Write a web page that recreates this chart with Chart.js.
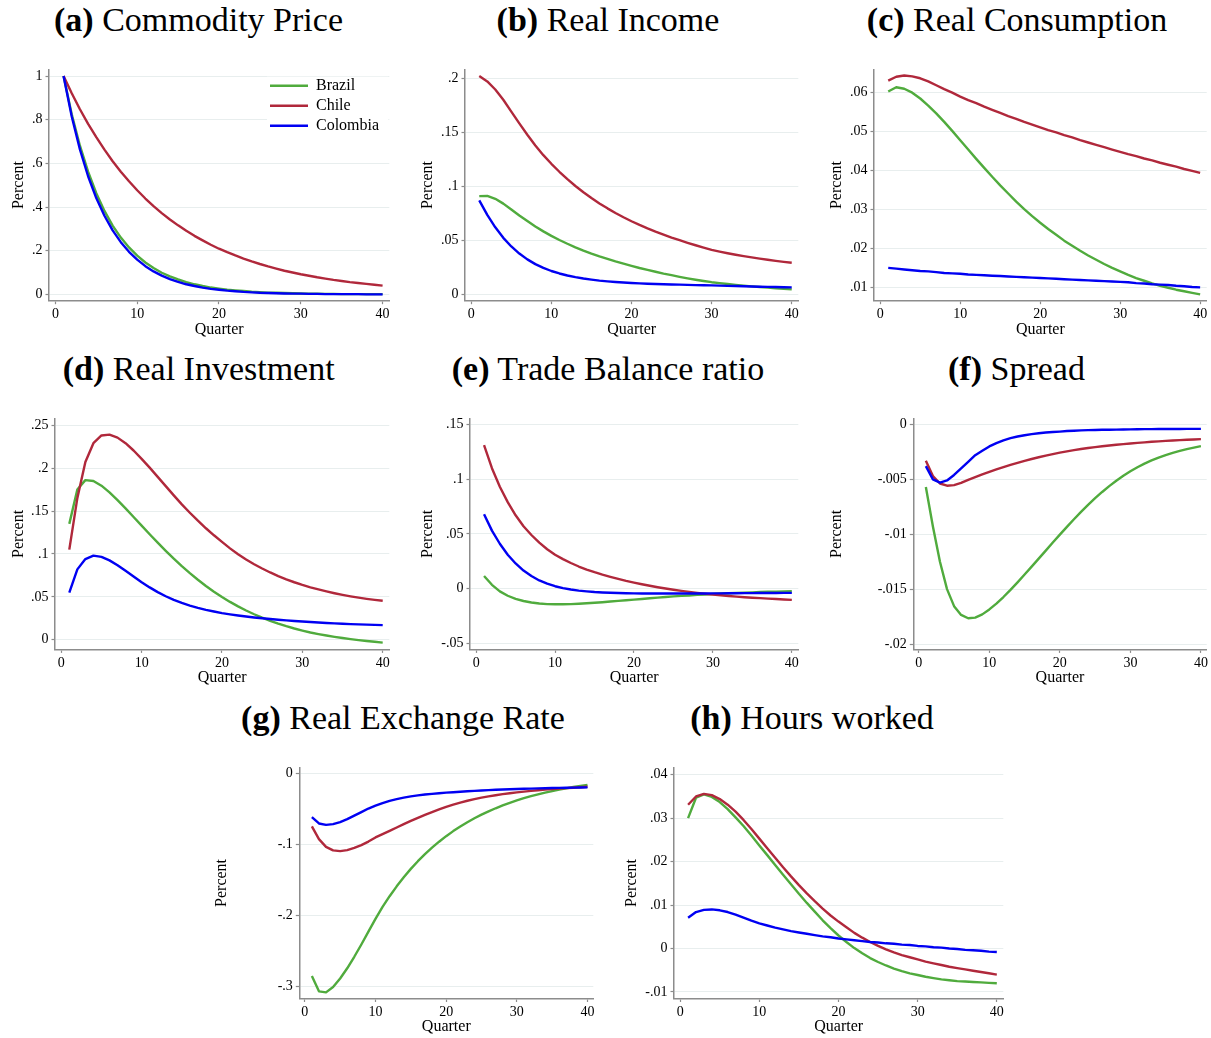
<!DOCTYPE html>
<html>
<head>
<meta charset="utf-8">
<script src="https://cdn.jsdelivr.net/npm/chart.js@4.4.1/dist/chart.umd.min.js"></script>
<style>
  html, body { margin: 0; padding: 0; background: #fff; width: 1211px; height: 1038px; overflow: hidden; }
  .panel-title { position: absolute; width: 440px; text-align: center; white-space: nowrap;
    font-family: 'Liberation Serif', 'Times New Roman', serif; font-size: 34px; line-height: 34px; color: #000; }
  .panel-title b { font-weight: bold; }
  canvas { position: absolute; }
</style>
</head>
<body>
<script>
// Impulse responses to a commodity price shock, quarters 1..40
const quarters = [1,2,3,4,5,6,7,8,9,10,11,12,13,14,15,16,17,18,19,20,21,22,23,24,25,26,27,28,29,30,31,32,33,34,35,36,37,38,39,40];
const countries = ['Brazil', 'Chile', 'Colombia'];

// (a) Commodity price
const commodityBrazil = [1,.825,.681,.562,.463,.382,.315,.260,.215,.177,.146,.121,.099,.082,.068,.056,.046,.038,.031,.026,.021,.018,.015,.012,.010,.008,.007,.006,.005,.004,.003,.003,.002,.002,.001,.001,.001,.001,.001,.001];
const commodityChile = [1,.921,.848,.781,.720,.663,.610,.562,.518,.477,.439,.404,.372,.343,.316,.291,.268,.247,.227,.209,.193,.178,.164,.151,.139,.128,.118,.108,.100,.092,.085,.078,.072,.066,.061,.056,.052,.048,.044,.040];
const commodityColombia = [1,.815,.664,.541,.441,.360,.293,.239,.195,.159,.129,.105,.086,.070,.057,.046,.038,.031,.025,.021,.017,.014,.011,.009,.007,.006,.005,.004,.003,.003,.002,.002,.001,.001,.001,.001,.001,0,0,0];

// (b) Real income
const incomeBrazil = [.0910,.0912,.0885,.0840,.0785,.0730,.0678,.0628,.0582,.0540,.0502,.0467,.0434,.0404,.0376,.0350,.0326,.0303,.0282,.0262,.0242,.0224,.0207,.0190,.0175,.0160,.0146,.0133,.0121,.0110,.0101,.0093,.0085,.0078,.0071,.0065,.0059,.0053,.0048,.0043];
const incomeChile = [.2025,.1975,.1900,.1805,.1695,.1585,.1480,.1380,.1290,.1210,.1136,.1067,.1004,.0946,.0892,.0842,.0796,.0753,.0713,.0676,.0642,.0610,.0580,.0552,.0525,.0500,.0476,.0453,.0431,.0410,.0394,.0379,.0365,.0352,.0340,.0329,.0318,.0308,.0299,.0290];
const incomeColombia = [.0870,.0735,.0620,.0522,.0442,.0376,.0322,.0278,.0243,.0214,.0191,.0172,.0157,.0144,.0134,.0125,.0118,.0112,.0107,.0103,.0099,.0096,.0093,.0091,.0089,.0087,.0085,.0083,.0081,.0080,.0078,.0076,.0074,.0072,.0070,.0068,.0066,.0065,.0063,.0062];

// (c) Real consumption
const consumptionBrazil = [.0603,.0614,.0610,.0600,.0585,.0567,.0547,.0525,.0502,.0478,.0454,.0430,.0407,.0384,.0362,.0341,.0320,.0301,.0283,.0266,.0250,.0235,.0220,.0207,.0194,.0182,.0171,.0160,.0150,.0141,.0132,.0124,.0117,.0110,.0104,.0099,.0094,.0090,.0086,.0082];
const consumptionChile = [.0631,.0641,.0644,.0642,.0637,.0629,.0619,.0609,.0600,.0590,.0581,.0573,.0564,.0556,.0548,.0540,.0533,.0525,.0518,.0511,.0504,.0498,.0491,.0485,.0478,.0472,.0466,.0460,.0454,.0448,.0442,.0437,.0431,.0426,.0420,.0415,.0410,.0404,.0399,.0394];
const consumptionColombia = [.0150,.0148,.0146,.0144,.0142,.0141,.0139,.0137,.0136,.0135,.0133,.0132,.0131,.0130,.0129,.0128,.0127,.0126,.0125,.0124,.0123,.0122,.0121,.0120,.0119,.0118,.0117,.0116,.0115,.0114,.0113,.0111,.0110,.0108,.0107,.0106,.0104,.0103,.0101,.0100];

// (d) Real investment
const investmentBrazil = [.1350,.1750,.1860,.1850,.1795,.1717,.1627,.1530,.1430,.1329,.1229,.1131,.1036,.0945,.0858,.0776,.0699,.0627,.0560,.0498,.0441,.0389,.0341,.0297,.0257,.0221,.0188,.0158,.0131,.0107,.0085,.0066,.0049,.0034,.0021,.0008,-.0004,-.0014,-.0024,-.0033];
const investmentChile = [.1050,.1650,.2070,.2290,.2380,.2390,.2355,.2290,.2205,.2108,.2005,.1898,.1790,.1682,.1577,.1480,.1387,.1299,.1217,.1140,.1065,.0996,.0934,.0879,.0830,.0784,.0742,.0704,.0670,.0639,.0611,.0586,.0563,.0542,.0523,.0506,.0491,.0477,.0465,.0454];
const investmentColombia = [.0550,.0820,.0940,.0980,.0965,.0925,.0868,.0803,.0736,.0671,.0610,.0555,.0507,.0465,.0429,.0398,.0372,.0349,.0329,.0311,.0296,.0283,.0271,.0260,.0250,.0241,.0233,.0226,.0219,.0213,.0207,.0201,.0196,.0191,.0186,.0182,.0179,.0176,.0173,.0171];

// (e) Trade balance ratio
const tradeBrazil = [.0115,.0035,-.0025,-.0065,-.0093,-.0113,-.0127,-.0136,-.0141,-.0143,-.0143,-.0141,-.0138,-.0134,-.0129,-.0124,-.0118,-.0112,-.0106,-.0100,-.0094,-.0088,-.0082,-.0077,-.0071,-.0066,-.0062,-.0057,-.0053,-.0049,-.0045,-.0042,-.0039,-.0036,-.0034,-.0031,-.0029,-.0027,-.0026,-.0024];
const tradeChile = [.131,.110,.093,.079,.067,.057,.049,.042,.036,.031,.0270,.0234,.0202,.0174,.0150,.0128,.0108,.0089,.0071,.0055,.0040,.0026,.0013,.0001,-.0010,-.0020,-.0030,-.0039,-.0047,-.0054,-.0061,-.0067,-.0073,-.0078,-.0083,-.0087,-.0091,-.0095,-.0099,-.0103];
const tradeColombia = [.068,.053,.041,.031,.023,.0165,.0115,.0075,.0045,.0022,.0005,-.0008,-.0018,-.0025,-.0031,-.0035,-.0038,-.0040,-.0042,-.0043,-.0044,-.0045,-.0045,-.0045,-.0045,-.0045,-.0045,-.0044,-.0044,-.0043,-.0043,-.0042,-.0042,-.0041,-.0041,-.0040,-.0040,-.0040,-.0039,-.0039];

// (f) Spread
const spreadBrazil = [-.00570,-.00930,-.01250,-.01500,-.01655,-.01735,-.01765,-.01760,-.01730,-.01685,-.01632,-.01572,-.01507,-.01438,-.01367,-.01295,-.01222,-.01149,-.01076,-.01004,-.00933,-.00864,-.00797,-.00733,-.00672,-.00615,-.00562,-.00513,-.00468,-.00427,-.00390,-.00357,-.00328,-.00302,-.00279,-.00259,-.00241,-.00225,-.00211,-.00198];
const spreadChile = [-.00330,-.00470,-.00538,-.00558,-.00553,-.00533,-.00505,-.00480,-.00455,-.00432,-.00410,-.00389,-.00369,-.00350,-.00332,-.00315,-.00299,-.00284,-.00270,-.00257,-.00245,-.00234,-.00224,-.00215,-.00207,-.00199,-.00192,-.00185,-.00179,-.00173,-.00168,-.00163,-.00158,-.00154,-.00150,-.00146,-.00143,-.00140,-.00137,-.00134];
const spreadColombia = [-.0038,-.0050,-.0053,-.0051,-.0046,-.0040,-.0034,-.0028,-.0024,-.0020,-.0017,-.00145,-.00125,-.00110,-.00098,-.00088,-.00080,-.00074,-.00069,-.00065,-.0006,-.00057,-.00054,-.00052,-.0005,-.00049,-.00048,-.00047,-.00046,-.00045,-.00044,-.00043,-.00043,-.00042,-.00042,-.00041,-.00041,-.0004,-.0004,-.0004];

// (g) Real exchange rate
const rerBrazil = [-.2850,-.3065,-.3080,-.3005,-.2885,-.2740,-.2578,-.2405,-.2225,-.2045,-.1876,-.1725,-.1586,-.1458,-.1340,-.1232,-.1132,-.1041,-.0957,-.0879,-.0808,-.0742,-.0682,-.0627,-.0576,-.0529,-.0486,-.0446,-.0409,-.0375,-.0344,-.0316,-.0290,-.0266,-.0244,-.0223,-.0205,-.0187,-.0171,-.0157];
const rerChile = [-.074,-.092,-.103,-.108,-.109,-.1075,-.1045,-.1005,-.0955,-.0897,-.0851,-.0804,-.0757,-.0710,-.0664,-.0621,-.0580,-.0541,-.0503,-.0467,-.0435,-.0406,-.0380,-.0357,-.0336,-.0318,-.0302,-.0287,-.0274,-.0262,-.0251,-.0241,-.0232,-.0224,-.0217,-.0210,-.0203,-.0196,-.0189,-.0183];
const rerColombia = [-.061,-.070,-.072,-.071,-.068,-.064,-.059,-.054,-.049,-.0450,-.0413,-.0382,-.0357,-.0336,-.0319,-.0305,-.0293,-.0283,-.0274,-.0266,-.026,-.0253,-.0247,-.0241,-.0236,-.0231,-.0226,-.0222,-.0218,-.0215,-.0212,-.0209,-.0206,-.0203,-.0201,-.0199,-.0197,-.0195,-.0193,-.0192];

// (h) Hours worked
const hoursBrazil = [.0300,.0347,.0355,.0349,.0337,.0321,.0302,.0282,.0260,.0237,.0215,.0192,.0170,.0148,.0126,.0105,.0085,.0065,.0047,.0030,.0015,.0001,-.0011,-.0022,-.0031,-.0039,-.0046,-.0052,-.0057,-.0061,-.0065,-.0068,-.0071,-.0073,-.0075,-.0076,-.0077,-.0078,-.0079,-.0080];
const hoursChile = [.0331,.0350,.0356,.0353,.0344,.0331,.0315,.0296,.0275,.0253,.0231,.0209,.0187,.0166,.0146,.0127,.0109,.0092,.0076,.0062,.0049,.0036,.0025,.0015,.0006,-.0002,-.0009,-.0015,-.0020,-.0025,-.0030,-.0034,-.0038,-.0042,-.0045,-.0048,-.0051,-.0054,-.0057,-.0060];
const hoursColombia = [.0071,.0084,.0089,.0090,.0088,.0084,.0078,.0071,.0064,.0058,.0053,.0048,.0044,.0040,.0037,.0034,.0031,.0028,.0026,.0023,.0021,.0019,.0017,.0015,.0014,.0012,.0011,.0009,.0008,.0006,.0005,.0003,.0002,.0000,-.0001,-.0003,-.0004,-.0005,-.0007,-.0008];

// ---- styling and page geometry ----
const COLORS = { Brazil: '#50ab3d', Chile: '#b0283b', Colombia: '#0000f2' };
const SERIF = "'Liberation Serif', 'Times New Roman', serif";
const AXIS = '#8c8c8c';
const GRID = '#e8eeee';

const rows = [
  { top: 68.3,  bottom: 300.7, quarterMid: 328.9,  titleTop: 3.2 },
  { top: 417.2, bottom: 649.4, quarterMid: 677.3,  titleTop: 351.5 },
  { top: 766.3, bottom: 998.5, quarterMid: 1026.3, titleTop: 700.8 }
];

const panels = [
  { tag: '(a)', name: 'Commodity Price',     row: 0, titleX: 198.5,  percentX: 18.7,  left: 49,    right: 389.3,  yMin: -0.0292,  yMax: 1.0306,  step: 0.2,   series: [commodityBrazil, commodityChile, commodityColombia], legend: true },
  { tag: '(b)', name: 'Real Income',         row: 0, titleX: 608,    percentX: 427.2, left: 465,   right: 798.3,  yMin: -0.0062,  yMax: 0.2087,  step: 0.05,  series: [incomeBrazil, incomeChile, incomeColombia] },
  { tag: '(c)', name: 'Real Consumption',    row: 0, titleX: 1017,   percentX: 836.2, left: 874,   right: 1206.7, yMin: 0.006575, yMax: 0.06598, step: 0.01,  series: [consumptionBrazil, consumptionChile, consumptionColombia] },
  { tag: '(d)', name: 'Real Investment',     row: 1, titleX: 198.7,  percentX: 18.3,  left: 55,    right: 389.3,  yMin: -0.01124, yMax: 0.2579,  step: 0.05,  series: [investmentBrazil, investmentChile, investmentColombia] },
  { tag: '(e)', name: 'Trade Balance ratio', row: 1, titleX: 608,    percentX: 427.2, left: 470,   right: 798.3,  yMin: -0.0555,  yMax: 0.1555,  step: 0.05,  series: [tradeBrazil, tradeChile, tradeColombia] },
  { tag: '(f)', name: 'Spread',              row: 1, titleX: 1016.5, percentX: 836.2, left: 913.3, right: 1206.7, yMin: -0.02049, yMax: 0.00055, step: 0.005, series: [spreadBrazil, spreadChile, spreadColombia] },
  { tag: '(g)', name: 'Real Exchange Rate',  row: 2, titleX: 403,    percentX: 222,   left: 299.3, right: 593.3,  yMin: -0.3166,  yMax: 0.00897, step: 0.1,   series: [rerBrazil, rerChile, rerColombia] },
  { tag: '(h)', name: 'Hours worked',        row: 2, titleX: 812,    percentX: 631.2, left: 674,   right: 1003.3, yMin: -0.0115,  yMax: 0.04169, step: 0.01,  series: [hoursBrazil, hoursChile, hoursColombia] }
];

// Stata-style tick labels: ".05", "-.01", "0", "1"
function fmtTick(v) {
  const r = Math.round(v * 1e6) / 1e6;
  return String(r).replace(/^(-?)0\./, '$1.');
}

// Moves the key into the upper right of the plot region and gives it a white box
const legendInset = {
  id: 'legendInset',
  afterLayout(chart, args, opts) {
    const lg = chart.legend;
    if (!lg) return;
    const ca = chart.chartArea;
    lg.left = ca.right - opts.dx;
    lg.right = ca.right;
    lg.top = ca.top + opts.dy;
    lg.bottom = ca.bottom;
    lg.width = lg.right - lg.left;
    lg.height = lg.bottom - lg.top;
  },
  beforeDatasetsDraw(chart, args, opts) {
    const lg = chart.legend;
    if (!lg) return;
    const ctx = chart.ctx;
    ctx.save();
    ctx.fillStyle = '#ffffff';
    ctx.fillRect(lg.left + 1, lg.top + 3, lg.right - lg.left - 2, 60);
    ctx.restore();
    lg.draw(chart.chartArea);
  }
};

panels.forEach((p) => {
  const row = rows[p.row];

  // panel title
  const t = document.createElement('div');
  t.className = 'panel-title';
  t.style.left = (p.titleX - 220) + 'px';
  t.style.top = row.titleTop + 'px';
  const b = document.createElement('b');
  b.textContent = p.tag;
  t.appendChild(b);
  t.appendChild(document.createTextNode(' ' + p.name));
  document.body.appendChild(t);

  // canvas box around the plot region
  const cLeft = Math.round(p.percentX - 9.6);
  const cTop = Math.round(row.top - 10);
  const cRight = Math.min(Math.round(p.right + 8), 1211);
  const cBottom = Math.round(row.quarterMid + 9.6);
  const yAxisW = p.left - cLeft;
  const xAxisH = cBottom - row.bottom;
  const padTop = row.top - cTop;
  const padRight = cRight - p.right;

  const canvas = document.createElement('canvas');
  canvas.width = cRight - cLeft;
  canvas.height = cBottom - cTop;
  canvas.style.left = cLeft + 'px';
  canvas.style.top = cTop + 'px';
  canvas.style.width = (cRight - cLeft) + 'px';
  canvas.style.height = (cBottom - cTop) + 'px';
  document.body.appendChild(canvas);

  const datasets = p.series.map((vals, i) => ({
    label: countries[i],
    data: quarters.map((q, k) => ({ x: q, y: vals[k] })),
    borderColor: COLORS[countries[i]],
    backgroundColor: COLORS[countries[i]],
    borderWidth: 2.4,
    pointRadius: 0,
    tension: 0,
    borderJoinStyle: 'round',
    order: 3 - i
  }));

  const tickFont = { family: SERIF, size: 14 };
  const titleFont = { family: SERIF, size: 16 };

  new Chart(canvas, {
    type: 'line',
    data: { datasets },
    plugins: p.legend ? [legendInset] : [],
    options: {
      responsive: false,
      animation: false,
      devicePixelRatio: 1,
      events: [],
      layout: { padding: { top: padTop, right: padRight, bottom: 0, left: 0 } },
      plugins: {
        tooltip: { enabled: false },
        legend: p.legend ? {
          display: true,
          position: 'chartArea',
          align: 'start',
          labels: {
            usePointStyle: true,
            pointStyle: 'line',
            pointStyleWidth: 38,
            color: '#000',
            font: { family: SERIF, size: 16 },
            padding: 4,
            sort: (a, b) => a.datasetIndex - b.datasetIndex
          }
        } : { display: false },
        legendInset: { dx: 123.3, dy: 4.3 }
      },
      scales: {
        x: {
          type: 'linear',
          min: -0.78,
          max: 40.82,
          afterFit: (s) => { s.height = xAxisH; },
          ticks: { stepSize: 10, includeBounds: false, autoSkip: false, maxRotation: 0,
                   color: '#000', font: tickFont, padding: 1.8, callback: (v) => fmtTick(v) },
          grid: { drawOnChartArea: false, drawTicks: true, tickLength: 3.5, tickColor: AXIS, tickWidth: 1.2 },
          border: { display: true, color: AXIS, width: 1.5 },
          title: { display: true, text: 'Quarter', color: '#000', font: titleFont, padding: 0 }
        },
        y: {
          type: 'linear',
          min: p.yMin,
          max: p.yMax,
          afterFit: (s) => { s.width = yAxisW; },
          ticks: { stepSize: p.step, includeBounds: false, autoSkip: false,
                   color: '#000', font: tickFont, padding: 3, callback: (v) => fmtTick(v) },
          grid: { color: GRID, lineWidth: 1, drawTicks: true, tickLength: 3.5, tickColor: AXIS, tickWidth: 1.2 },
          border: { display: true, color: AXIS, width: 1.5 },
          title: { display: true, text: 'Percent', color: '#000', font: titleFont, padding: 0 }
        }
      }
    }
  });
});
</script>
</body>
</html>
